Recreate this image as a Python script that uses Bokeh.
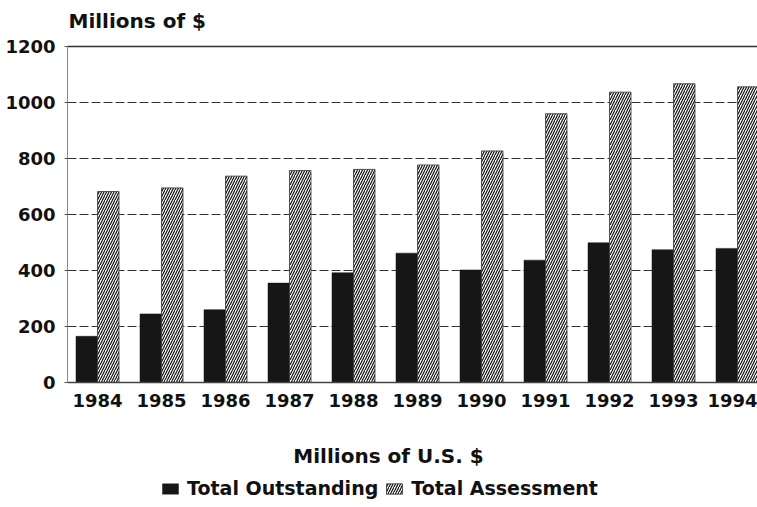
from bokeh.plotting import figure
from bokeh.models import (Range1d, FixedTicker, Span, Label, Legend, LegendItem,
                          ColumnDataSource, LinearAxis)
from bokeh.transform import dodge
from bokeh.embed import file_html
from bokeh.resources import INLINE

# ---- data ----
years = [1984, 1985, 1986, 1987, 1988, 1989, 1990, 1991, 1992, 1993, 1994]
total_outstanding = [165, 245, 260, 355, 392, 462, 402, 437, 499, 474, 479]
total_assessment = [682, 695, 737, 757, 761, 777, 827, 960, 1037, 1067, 1056]
y_ticks = [0, 200, 400, 600, 800, 1000, 1200]
grid_ticks = [200, 400, 600, 800, 1000]
series_names = ["Total Outstanding", "Total Assessment"]
title_text = "Millions of $"
x_label_text = "Millions of U.S. $"

FONT = "DejaVu Sans"
W, H = 757, 507
LEFT = 67                 # frame left (px)
TOP_PX, ZERO_PX = 46, 382  # page y of 1200 and of 0
PPU = (ZERO_PX - TOP_PX) / y_ticks[-1]   # px per unit
PX_PER_YEAR = 64.0
FIRST_CENTER = 97

src = ColumnDataSource(dict(year=years, outstanding=total_outstanding,
                            assessment=total_assessment))

x0 = years[0] - (FIRST_CENTER - LEFT) / PX_PER_YEAR
x1 = x0 + (W - LEFT) / PX_PER_YEAR
y0 = -(H - ZERO_PX) / PPU
y1 = y_ticks[-1] + TOP_PX / PPU

p = figure(width=W, height=H, output_backend="svg", toolbar_location=None,
           x_range=Range1d(x0, x1), y_range=Range1d(y0, y1),
           x_axis_location=None,
           min_border_left=LEFT, min_border_right=0, min_border_top=0,
           min_border_bottom=0, background_fill_color="white",
           border_fill_color="white")
p.outline_line_color = None

bw = 21.5 / PX_PER_YEAR
r1 = p.vbar(x=dodge('year', -bw / 2), top='outstanding', bottom=0, width=bw,
            source=src, fill_color="#161616", line_color="#161616",
            line_width=0.5)
r2 = p.vbar(x=dodge('year', bw / 2), top='assessment', bottom=0, width=bw,
            source=src, fill_color="white", line_color="#333333",
            line_width=0.8, hatch_pattern="/", hatch_scale=5,
            hatch_weight=1.2, hatch_color="#111111")

# x axis pinned at y = 0 inside the frame
xaxis = LinearAxis(fixed_location=0, ticker=FixedTicker(ticks=years))
p.add_layout(xaxis, "below")

p.yaxis.ticker = FixedTicker(ticks=y_ticks)
p.yaxis.bounds = (y_ticks[0], y_ticks[-1])
for ax in (xaxis, p.yaxis[0]):
    ax.major_label_text_font = FONT
    ax.major_label_text_font_style = "bold"
    ax.major_label_text_font_size = "18px"
    ax.major_label_text_color = "#111111"
    ax.minor_tick_line_color = None
xaxis.major_tick_line_color = None
xaxis.major_label_standoff = 5
xaxis.axis_line_color = "#444444"
xaxis.axis_line_width = 1.5
p.yaxis.axis_line_color = "#888888"
p.yaxis.axis_line_width = 1
p.yaxis.major_tick_out = 3
p.yaxis.major_tick_in = 0
p.yaxis.major_tick_line_color = "#555555"
p.yaxis.major_label_standoff = 9

p.xgrid.visible = False
p.ygrid.ticker = FixedTicker(ticks=grid_ticks)
p.ygrid.grid_line_color = "#333333"
p.ygrid.grid_line_dash = "9 3"
p.ygrid.grid_line_width = 1

p.add_layout(Span(location=y_ticks[-1], dimension="width", line_color="#333333",
                  line_width=1.5))

# title and x label (screen units: from frame bottom-left, y up)
p.add_layout(Label(x=1, y=H - 20.5, x_units="screen", y_units="screen",
                   text=title_text, text_font=FONT, text_font_style="bold",
                   text_font_size="20px", text_color="#111111",
                   text_baseline="alphabetic", text_align="left"))
p.add_layout(Label(x=388 - LEFT, y=H - 455, x_units="screen", y_units="screen",
                   text=x_label_text, text_font=FONT, text_font_style="bold",
                   text_font_size="20px", text_color="#111111",
                   text_baseline="alphabetic", text_align="center"))

legend = Legend(items=[LegendItem(label=series_names[0], renderers=[r1]),
                       LegendItem(label=series_names[1], renderers=[r2])],
                location=(160 - LEFT, H - 499), orientation="horizontal",
                padding=0, margin=0, spacing=6, label_standoff=7,
                glyph_width=20, glyph_height=13, label_height=13,
                label_text_font=FONT, label_text_font_style="bold",
                label_text_font_size="19px", label_text_color="#111111",
                border_line_color=None, background_fill_alpha=0)
p.add_layout(legend)

open("out.html", "w").write(file_html(p, INLINE))
